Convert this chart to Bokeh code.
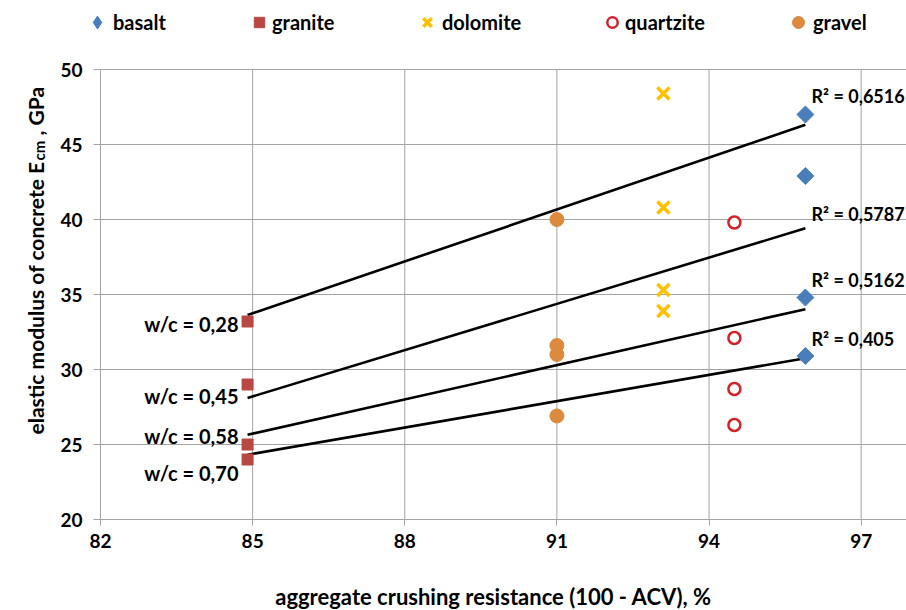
import math
import numpy as np
from bokeh.plotting import figure
from bokeh.models import (ColumnDataSource, FixedTicker, Label, Legend, LegendItem, LinearAxis)
from bokeh.core.properties import value
from bokeh.embed import file_html
from bokeh.resources import INLINE

# ---------------- data ----------------
wc_ratios = ["w/c = 0,28", "w/c = 0,45", "w/c = 0,58", "w/c = 0,70"]
r2_labels = ["R² = 0,6516", "R² = 0,5787", "R² = 0,5162", "R² = 0,405"]

basalt_x = 95.9
basalt_y = [47.0, 42.9, 34.8, 30.9]
granite_x = 84.9
granite_y = [33.2, 29.0, 25.0, 24.0]
dolomite_x = 93.1
dolomite_y = [48.4, 40.8, 35.3, 33.9]
quartzite_x = 94.5
quartzite_y = [39.8, 32.1, 28.7, 26.3]
gravel_x = 91.0
gravel_y = [40.0, 31.6, 31.0, 26.9]

x_ticks = [82, 85, 88, 91, 94, 97]
y_ticks = [20, 25, 30, 35, 40, 45, 50]
X_MIN, X_MAX = 82, 97.894
Y_MIN, Y_MAX = 20, 50

FONT = "Lato"
GRID = "#A3A3A3"
C_BASALT, C_GRANITE, C_DOLOMITE, C_QUARTZ, C_GRAVEL = "#4A7EBB", "#B94845", "#FFC000", "#D0232A", "#DE8A3E"

# pixel geometry of the plotting area inside the 906x610 canvas
L, R, T, B = 100, 906, 69, 519
W, H = 906, 610
sx = (R - L) / (X_MAX - X_MIN)   # px per x unit
sy = (B - T) / (Y_MAX - Y_MIN)   # px per y unit


def px2x(px):
    return X_MIN + (px - L) / sx


def py2y(py):
    return Y_MAX - (py - T) / sy


# ---------------- figure (frame = whole canvas, axes at fixed locations) ----------------
p = figure(width=W, height=H, x_range=(px2x(0), px2x(W)), y_range=(py2y(H), py2y(0)),
           output_backend="svg", toolbar_location=None,
           x_axis_location=None, y_axis_location=None,
           min_border=0)
p.outline_line_color = None
p.background_fill_color = "white"
p.xgrid.visible = False
p.ygrid.visible = False

# grid lines from tick lists
p.segment(x0=x_ticks, y0=[Y_MIN] * len(x_ticks), x1=x_ticks, y1=[Y_MAX] * len(x_ticks),
          line_color=GRID, line_width=1)
p.segment(x0=[X_MIN] * len(y_ticks), y0=y_ticks, x1=[X_MAX] * len(y_ticks), y1=y_ticks,
          line_color=GRID, line_width=1)

xaxis = LinearAxis(fixed_location=Y_MIN, bounds=(X_MIN, X_MAX), ticker=FixedTicker(ticks=x_ticks))
yaxis = LinearAxis(fixed_location=X_MIN, bounds=(Y_MIN, Y_MAX), ticker=FixedTicker(ticks=y_ticks))
for ax in (xaxis, yaxis):
    ax.axis_line_color = GRID
    ax.major_tick_line_color = GRID
    ax.minor_tick_line_color = None
    ax.major_tick_in = 0
    ax.major_label_text_font = FONT
    ax.major_label_text_font_style = "bold"
    ax.major_label_text_font_size = "19px"
    ax.major_label_text_color = "black"
xaxis.major_tick_out = 6
yaxis.major_tick_out = 7
xaxis.major_label_standoff = 8
yaxis.major_label_standoff = 11
p.add_layout(xaxis, "below")
p.add_layout(yaxis, "left")

# ---------------- trend lines (least squares per w/c group) ----------------
xs_all = np.array([granite_x, gravel_x, dolomite_x, quartzite_x, basalt_x])
for i in range(4):
    ys = np.array([granite_y[i], gravel_y[i], dolomite_y[i], quartzite_y[i], basalt_y[i]])
    k, b = np.polyfit(xs_all, ys, 1)
    x0, x1 = xs_all.min(), xs_all.max()
    p.line([x0, x1], [k * x0 + b, k * x1 + b], line_color="black", line_width=2.6)

# ---------------- markers ----------------
def col(xv, yv):
    return ColumnDataSource(dict(x=[xv] * len(yv), y=yv))


src_basalt = col(basalt_x, basalt_y)
p.scatter("x", "y", source=src_basalt, marker="square",
          angle=math.pi / 4, size=12, fill_color=C_BASALT, line_color=C_BASALT)
r_granite = p.scatter("x", "y", source=col(granite_x, granite_y), marker="square",
                      size=11, fill_color=C_GRANITE, line_color=C_GRANITE)
r_dolomite = p.scatter("x", "y", source=col(dolomite_x, dolomite_y), marker="x",
                       size=17, line_color=C_DOLOMITE, line_width=3.5)
r_quartz = p.scatter("x", "y", source=col(quartzite_x, quartzite_y), marker="circle",
                     size=12, fill_color="white", line_color=C_QUARTZ, line_width=2.5)
r_gravel = p.scatter("x", "y", source=col(gravel_x, gravel_y), marker="circle",
                     size=14, fill_color=C_GRAVEL, line_color=C_GRAVEL)

# legend-only diamond glyph for basalt (hidden renderer, same data)
lg_basalt = p.scatter("x", "y", source=src_basalt, marker="diamond",
                      fill_color=C_BASALT, line_color=C_BASALT, visible=False)

# ---------------- in-plot labels ----------------
wc_src = ColumnDataSource(dict(x=[px2x(238)] * 4, y=[py2y(323), py2y(395.7), py2y(435), py2y(472)], t=wc_ratios))
p.text("x", "y", text="t", source=wc_src, text_align="right", text_baseline="middle",
       text_font=value(FONT), text_font_style="bold", text_font_size="20px", text_color="black")
r2_src = ColumnDataSource(dict(x=[px2x(811)] * 4, y=[py2y(95), py2y(213.3), py2y(279.3), py2y(338.3)], t=r2_labels))
p.text("x", "y", text="t", source=r2_src, text_align="left", text_baseline="middle",
       text_font=value(FONT), text_font_style="bold", text_font_size="18px", text_color="black")

# ---------------- axis titles ----------------
p.add_layout(Label(x=px2x(493), y=py2y(596), text="aggregate crushing resistance (100 - ACV), %",
                   text_align="center", text_baseline="middle", text_font=FONT,
                   text_font_style="bold", text_font_size="22px", text_color="black"))
p.add_layout(Label(x=px2x(35), y=py2y(161), text="elastic modulus of concrete E", angle=math.pi / 2,
                   text_align="right", text_baseline="alphabetic", text_font=FONT,
                   text_font_style="bold", text_font_size="21px", text_color="black"))
p.add_layout(Label(x=px2x(38), y=py2y(160), text="cm", angle=math.pi / 2,
                   text_align="left", text_baseline="alphabetic", text_font=FONT,
                   text_font_style="bold", text_font_size="15px", text_color="black"))
p.add_layout(Label(x=px2x(35), y=py2y(135), text=", GPa", angle=math.pi / 2,
                   text_align="left", text_baseline="alphabetic", text_font=FONT,
                   text_font_style="bold", text_font_size="21px", text_color="black"))

# ---------------- legend (top row) ----------------
legend_specs = [
    ("basalt", lg_basalt, 97, 32, -1),
    ("granite", r_granite, 259, 26, -3),
    ("dolomite", r_dolomite, 427, 30, -4),
    ("quartzite", r_quartz, 612, 26, -1),
    ("gravel", r_gravel, 798, 30, -2),
]
for name, rend, cx, G, standoff in legend_specs:
    lg = Legend(items=[LegendItem(label=name, renderers=[rend])],
                location=(cx - G / 2, (H - 22) - G / 2),
                orientation="horizontal", glyph_width=G, glyph_height=G, label_height=G,
                label_standoff=standoff, padding=0, margin=0, spacing=0,
                background_fill_alpha=0, border_line_alpha=0,
                label_text_font=FONT, label_text_font_style="bold",
                label_text_font_size="20px", label_text_color="black")
    p.add_layout(lg)

open("out.html", "w").write(file_html(p, INLINE))
